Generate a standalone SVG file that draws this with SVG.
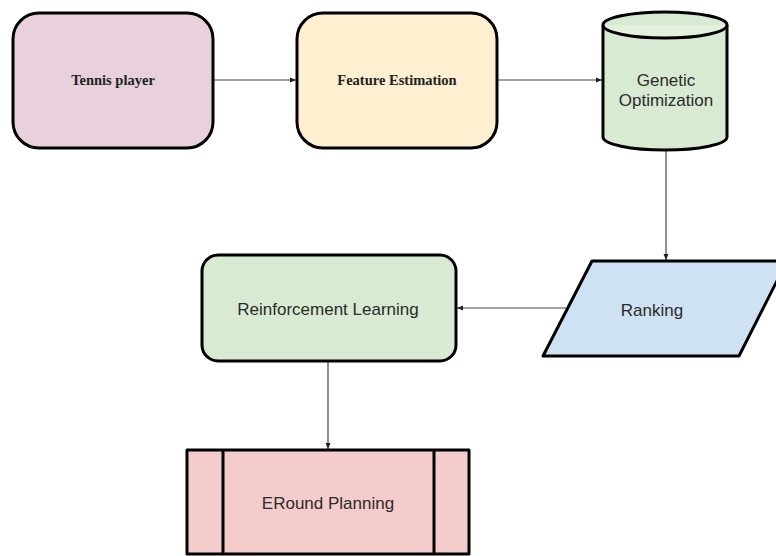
<svg xmlns="http://www.w3.org/2000/svg" width="776" height="556" viewBox="0 0 776 556">
<style>
.n{stroke:#000;stroke-width:3;stroke-linejoin:round}
.c{fill:none;stroke:#444;stroke-width:1.2}
.serif{font-family:"Liberation Serif","Times New Roman",serif;font-weight:bold;font-size:14.5px;fill:#222;text-anchor:middle}
.sans{font-family:"Liberation Sans",Arial,sans-serif;font-size:17px;fill:#2a2a2a;text-anchor:middle}
</style>
<defs>
<marker id="ah" viewBox="0 0 6 6" refX="6" refY="3" markerWidth="6" markerHeight="6" markerUnits="userSpaceOnUse" orient="auto">
<path d="M0,0.5 L6,3 L0,5.5 Z" fill="#222"/>
</marker>
</defs>
<rect width="776" height="556" fill="#fff"/>
<g id="connectors">
<line class="c" x1="213" y1="80" x2="296" y2="80" marker-end="url(#ah)"/>
<line class="c" x1="497" y1="80" x2="602" y2="80" marker-end="url(#ah)"/>
<line class="c" x1="666" y1="150" x2="666" y2="260" marker-end="url(#ah)"/>
<line class="c" x1="566" y1="308" x2="457" y2="308" marker-end="url(#ah)"/>
<line class="c" x1="328" y1="362" x2="328" y2="449" marker-end="url(#ah)"/>
</g>
<g id="tennis">
<rect class="n" x="13" y="13" width="200" height="135" rx="26" fill="#e8d1dc"/>
<text class="serif" x="113" y="85">Tennis player</text>
</g>
<g id="feature">
<rect class="n" x="297" y="13" width="200" height="135" rx="26" fill="#fdefcf"/>
<text class="serif" x="397" y="85">Feature Estimation</text>
</g>
<g id="genetic">
<path class="n" d="M603,25 L603,137 A62,13 0 0 0 727,137 L727,25 A62,13 0 0 0 603,25 Z" fill="#d9ead3"/>
<path class="n" d="M603,25 A62,13 0 0 0 727,25" fill="#e3f0de"/>
<text class="sans" x="666" y="86">Genetic</text>
<text class="sans" x="666" y="106">Optimization</text>
</g>
<g id="ranking">
<polygon class="n" points="592,261 787,261 739,356 543,356" fill="#cfe2f3"/>
<text class="sans" x="652" y="316">Ranking</text>
</g>
<g id="rl">
<rect class="n" x="202" y="255" width="254" height="106" rx="16" fill="#d9ead3"/>
<text class="sans" x="328" y="315">Reinforcement Learning</text>
</g>
<g id="eround">
<rect class="n" x="187" y="450" width="282" height="104" fill="#f4cccc"/>
<line class="n" x1="223" y1="450" x2="223" y2="554"/>
<line class="n" x1="434" y1="450" x2="434" y2="554"/>
<text class="sans" x="328" y="509">ERound Planning</text>
</g>
</svg>
